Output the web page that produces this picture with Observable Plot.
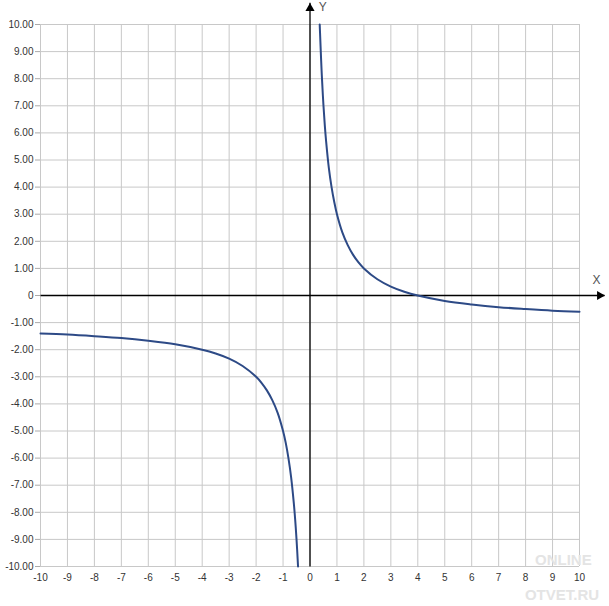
<!DOCTYPE html>
<html><head><meta charset="utf-8">
<script src="https://cdn.jsdelivr.net/npm/d3@7"></script>
<script src="https://cdn.jsdelivr.net/npm/@observablehq/plot@0.6"></script>
<style>html,body{margin:0;padding:0;background:#fff}</style>
</head><body><div id="chart"></div>
<script>
// Values
const gridTicks = d3.range(-10, 11);
const rightX = [0.36,0.38,0.4,0.43,0.45,0.5,0.55,0.6,0.7,0.8,0.9,1,1.2,1.4,1.6,1.8,2,2.5,3,3.5,4,5,6,7,8,9,10];
const rightY = [10.0,9.5,9.0,8.3,7.9,7.0,6.27,5.67,4.7,4.0,3.45,3.0,2.33,1.86,1.5,1.22,1.0,0.6,0.33,0.14,0,-0.2,-0.33,-0.43,-0.5,-0.56,-0.6];
const leftX = [-10,-9,-8,-7,-6,-5,-4,-3.5,-3,-2.5,-2,-1.8,-1.6,-1.4,-1.2,-1,-0.9,-0.8,-0.7,-0.6,-0.55,-0.5,-0.47,-0.444];
const leftY = [-1.4,-1.44,-1.5,-1.57,-1.67,-1.8,-2.0,-2.14,-2.33,-2.6,-3.0,-3.22,-3.5,-3.86,-4.33,-5.0,-5.44,-6.0,-6.71,-7.67,-8.27,-9.0,-9.51,-10.0];
const axisEnd = {x: 10.93, y: 10.8};
const arrowCenter = {x: 10.75, y: 10.6};
const axisLabels = [{t: "X", x: 10.63, y: 0.55}, {t: "Y", x: 0.47, y: 10.63}];
const watermark = [{t: "ONLINE", x: 9.4, y: -9.75}, {t: "OTVET.RU", x: 9.35, y: -11.05}];

const right = rightX.map((x, i) => ({x, y: rightY[i]}));
const left = leftX.map((x, i) => ({x, y: leftY[i]}));
const font = "Liberation Sans, Arial, sans-serif";

const chart = Plot.plot({
  width: 609, height: 606,
  marginLeft: 40, marginRight: 30, marginTop: 24, marginBottom: 40,
  style: {background: "#fff", fontFamily: font, fontSize: "10px", color: "#333"},
  x: {domain: [-10, 10]},
  y: {domain: [-10, 10]},
  marks: [
    Plot.gridX(gridTicks, {stroke: "#c8c8c8", strokeOpacity: 1, strokeWidth: 1}),
    Plot.gridY(gridTicks, {stroke: "#c8c8c8", strokeOpacity: 1, strokeWidth: 1}),
    Plot.text(watermark, {x: "x", y: "y", text: "t", fontSize: 15, fontWeight: "bold", fill: "#e4e4e4"}),
    Plot.axisY(gridTicks, {tickSize: 5, tickPadding: 2, stroke: "#aaa", fill: "#333",
      tickFormat: d => d === 0 ? "0" : d.toFixed(2), label: null}),
    Plot.axisX(gridTicks, {tickSize: 0, tickPadding: 7, fill: "#333", tickFormat: d => String(d), label: null}),
    Plot.link([{x1: -10, y1: 0, x2: axisEnd.x, y2: 0}, {x1: 0, y1: -10, x2: 0, y2: axisEnd.y}],
      {x1: "x1", y1: "y1", x2: "x2", y2: "y2", stroke: "#000", strokeWidth: 1.3}),
    Plot.dot([{x: arrowCenter.x, y: 0, r: 90}, {x: 0, y: arrowCenter.y, r: 0}],
      {x: "x", y: "y", rotate: "r", symbol: "triangle", r: 3.4, fill: "#000", stroke: "none"}),
    Plot.line(right, {x: "x", y: "y", curve: "catmull-rom", stroke: "#2d4a86", strokeWidth: 2}),
    Plot.line(left, {x: "x", y: "y", curve: "catmull-rom", stroke: "#2d4a86", strokeWidth: 2}),
    Plot.text(axisLabels, {x: "x", y: "y", text: "t", fontSize: 12, fill: "#555"})
  ]
});
document.getElementById("chart").appendChild(chart);
</script></body></html>
